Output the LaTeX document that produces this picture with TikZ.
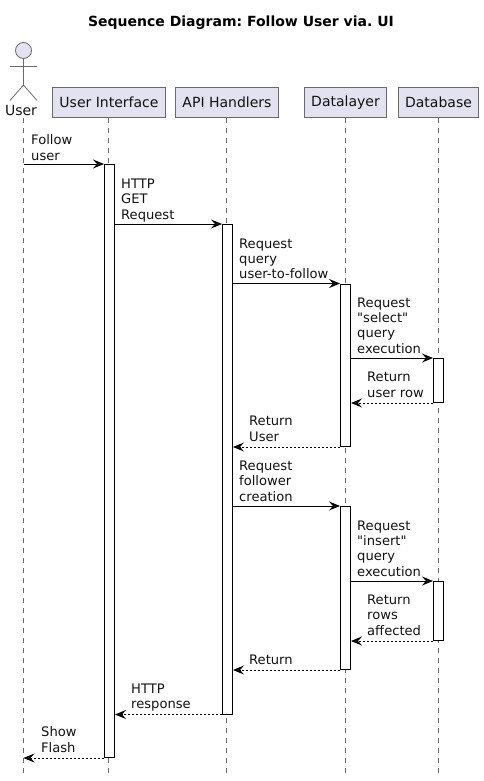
\documentclass[tikz,border=0pt]{standalone}
\usepackage{fontspec}
\setmainfont{DejaVu Sans}[Ligatures=TeXOff]
\usetikzlibrary{arrows.meta}
\definecolor{partfill}{HTML}{E2E2F0}
\definecolor{partline}{HTML}{6A6A6A}
\definecolor{txt}{HTML}{111111}
\tikzset{
  x=1pt,y=-1pt,
  part/.style={draw=partline,fill=partfill,line width=1pt,minimum height=30pt,inner sep=0pt,text=txt,font=\fontsize{14}{16}\selectfont},
  life/.style={draw=partline,line width=0.8pt,dash pattern=on 5pt off 5pt},
  bar/.style={draw=black,fill=white,line width=1pt,minimum width=10pt,inner sep=0pt,anchor=north},
  call/.style={draw=black,line width=1pt,-{Stealth[length=11pt,width=9pt,inset=4pt,fill=black!90]}},
  ret/.style={call,dash pattern=on 2pt off 2pt},
  lbl/.style={anchor=base west,align=left,inner sep=0pt,text=txt,font=\fontsize{13.1}{15.1}\selectfont},
  actorline/.style={draw=partline,line width=0.8pt},
}
\begin{document}
\frenchspacing
\begin{tikzpicture}
\useasboundingbox (0,0) rectangle (483,781);
\node[font=\fontsize{14}{16}\selectfont\bfseries,text=black] (title) at (241,23) {Sequence Diagram: Follow User via. UI};
% participants
\node[part,minimum width=113pt] (ui) at (109,102.5) {User Interface};
\node[part,minimum width=103pt] (api) at (227,102.5) {API Handlers};
\node[part,minimum width=82pt] (dl) at (345.5,102.5) {Datalayer};
\node[part,minimum width=80pt] (db) at (438.5,102.5) {Database};
% actor
\node[circle,draw=partline,fill=partfill,line width=0.8pt,minimum size=16pt,inner sep=0pt] (head) at (23.5,50.5) {};
\coordinate (hip) at (23.5,85);
\coordinate (armL) at (10,66);
\coordinate (armR) at (37,66);
\coordinate (legL) at (10,100.5);
\coordinate (legR) at (37,100.5);
\draw[actorline] (head.south) -- (hip);
\draw[actorline] (armL) -- (armR);
\draw[actorline] (legL) -- (hip) -- (legR);
\node[font=\fontsize{14}{16}\selectfont,text=txt] (user) at (21,110) {User};
% lifeline ends
\coordinate (userTop) at (23.5,118);
\coordinate (userEnd) at (23.5,773);
\coordinate (uiTop) at (108.5,118);
\coordinate (uiEnd) at (108.5,773);
\coordinate (apiTop) at (226.5,118);
\coordinate (apiEnd) at (226.5,773);
\coordinate (dlTop) at (345.5,118);
\coordinate (dlEnd) at (345.5,773);
\coordinate (dbTop) at (438.5,118);
\coordinate (dbEnd) at (438.5,773);
\draw[life] (userTop) -- (userEnd);
\draw[life] (uiTop) -- (uiEnd);
\draw[life] (apiTop) -- (apiEnd);
\draw[life] (dlTop) -- (dlEnd);
\draw[life] (dbTop) -- (dbEnd);
% activations
\node[bar,minimum height=593pt] (uiA) at (109.5,164) {};
\node[bar,minimum height=489.5pt] (apiA) at (227.5,224) {};
\node[bar,minimum height=162.5pt] (dlA) at (345.5,283.5) {};
\node[bar,minimum height=163pt] (dlB) at (345.5,506) {};
\node[bar,minimum height=44pt] (dbA) at (438.5,358) {};
\node[bar,minimum height=59pt] (dbB) at (438.5,581) {};
% messages
\draw[call] (userTop |- uiA.north) -- (uiA.north west);
\draw[call] (uiA.east |- apiA.north) -- (apiA.north west);
\draw[call] (apiA.east |- dlA.north) -- (dlA.north west);
\draw[call] (dlA.east |- dbA.north) -- (dbA.north west);
\draw[ret] (dbA.south west) -- (dlA.east |- dbA.south);
\draw[ret] (dlA.south west) -- (apiA.east |- dlA.south);
\draw[call] (apiA.east |- dlB.north) -- (dlB.north west);
\draw[call] (dlB.east |- dbB.north) -- (dbB.north west);
\draw[ret] (dbB.south west) -- (dlB.east |- dbB.south);
\draw[ret] (dlB.south west) -- (apiA.east |- dlB.south);
\draw[ret] (apiA.south west) -- (uiA.east |- apiA.south);
\draw[ret] (uiA.south west) -- (userTop |- uiA.south);
% labels
\node[lbl] (m1) at (31,160) {Follow\\user};
\node[lbl] (m2) at (121,219) {HTTP\\GET\\Request};
\node[lbl] (m3) at (239,278.5) {Request\\query\\user-to-follow};
\node[lbl] (m4) at (357,353) {Request\\"select"\\query\\execution};
\node[lbl] (m5) at (367,397) {Return\\user row};
\node[lbl] (m6) at (249,441) {Return\\User};
\node[lbl] (m7) at (239,501) {Request\\follower\\creation};
\node[lbl] (m8) at (357,576) {Request\\"insert"\\query\\execution};
\node[lbl] (m9) at (367,635) {Return\\rows\\affected};
\node[lbl] (m10) at (249,664) {Return};
\node[lbl] (m11) at (131,708.5) {HTTP\\response};
\node[lbl] (m12) at (41,752) {Show\\Flash};
\end{tikzpicture}
\end{document}
